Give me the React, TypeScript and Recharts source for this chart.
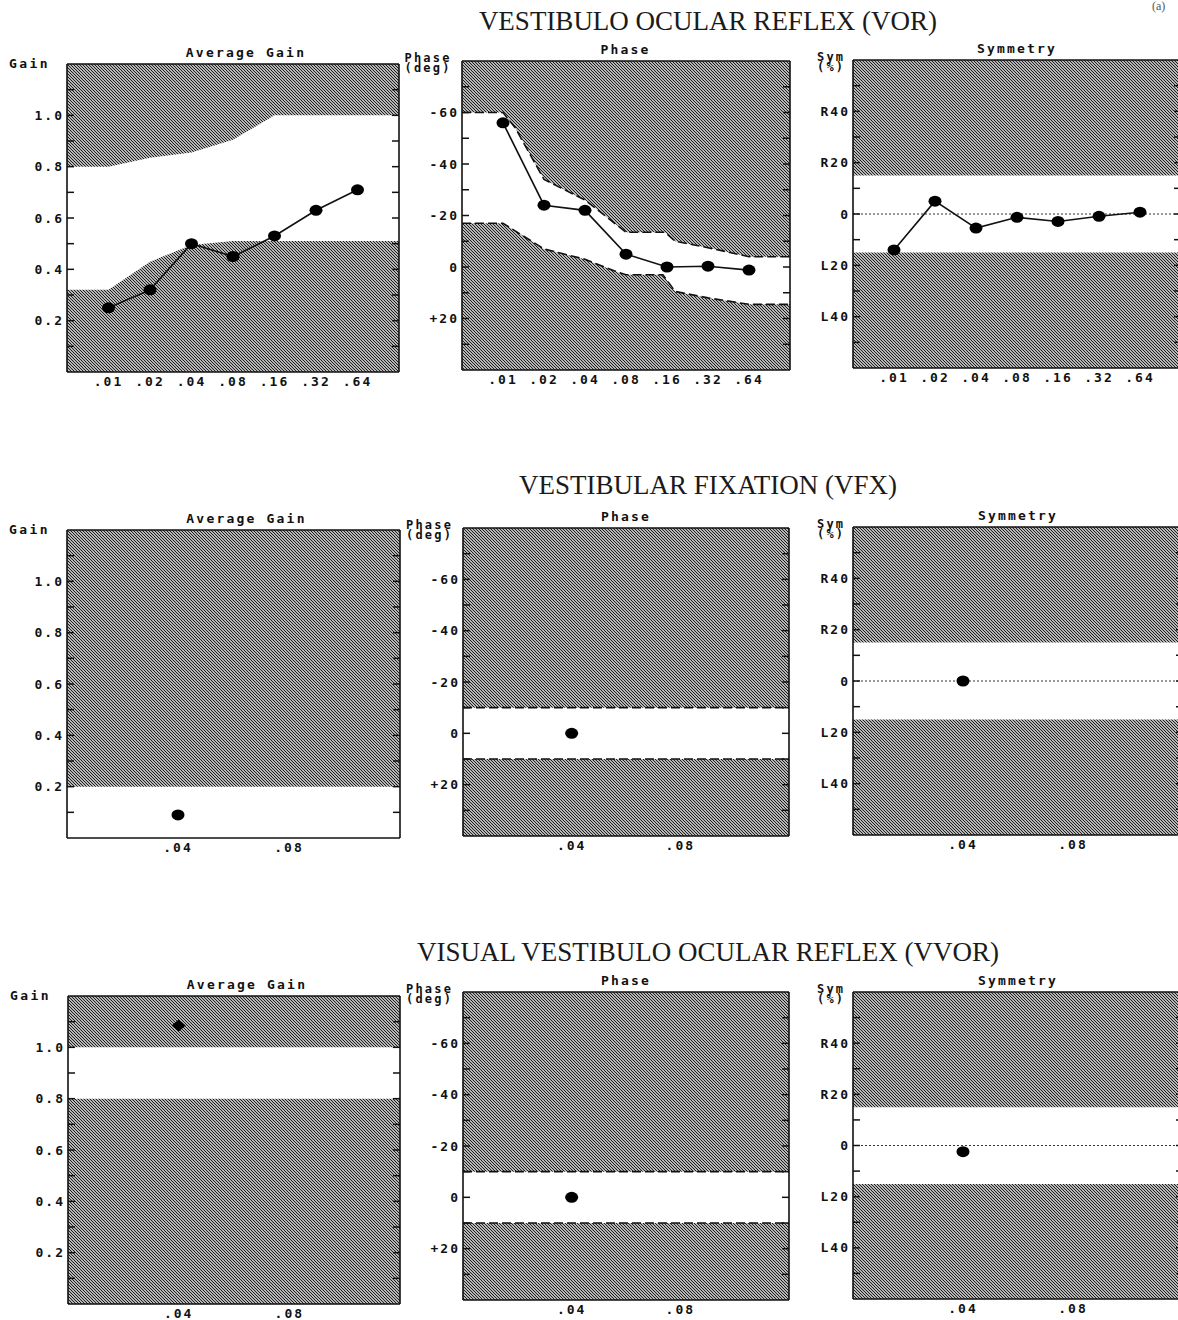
import React from 'react';
import { ComposedChart, Area, Line, XAxis, YAxis, ReferenceLine } from 'recharts';

// ---- data ----
const vorFreqs = ['.01', '.02', '.04', '.08', '.16', '.32', '.64'];
const vorFreqPos = [1, 2, 3, 4, 5, 6, 7];
const vorGain = [0.25, 0.32, 0.5, 0.45, 0.53, 0.63, 0.71];
const vorPhase = [-56, -24, -22, -5, 0, -0.3, 1.2];
const vorSym = [-14, 5, -5.5, -1.3, -2.9, -0.9, 0.7];

const singleFreqs = ['.04', '.08'];
const singleFreqPos = [1, 2];
const vfxGain = [0.09];
const vfxPhase = [0];
const vfxSym = [0];
const vvorGain = [1.085];
const vvorPhase = [0];
const vvorSym = [-2.4];

// normal limits: x = octave position, value at that position
const vorGainLimitX = [0, 1, 2, 3, 4, 5, 6, 7, 8];
const vorGainUpper = [0.8, 0.8, 0.835, 0.855, 0.905, 1.0, 1.0, 1.0, 1.0];
const vorGainLower = [0.32, 0.32, 0.43, 0.495, 0.51, 0.51, 0.51, 0.51, 0.51];
const vorPhaseUpperX = [0, 1, 1.3, 2, 3, 4, 4.95, 5.2, 6, 7, 8];
const vorPhaseUpper = [-60, -60, -54, -34, -26, -13.5, -13.5, -10, -7.5, -4, -4];
const vorPhaseLowerX = [0, 1, 2, 3, 3.8, 4, 4.9, 5.2, 6, 7, 8];
const vorPhaseLower = [-17, -17, -7, -3, 2, 3, 3, 9.5, 12, 14.5, 14.5];
const wideLimitX = [0, 8];
const narrowLimitX = [0, 3];
const symUpper = [15, 15];
const symLower = [-15, -15];
const fixPhaseUpper = [-10, -10];
const fixPhaseLower = [10, 10];
const vfxGainUpper = [0.2, 0.2];
const vvorGainUpper = [1.0, 1.0];
const vvorGainLower = [0.8, 0.8];

// axis ticks
const gainTicks = [0.2, 0.4, 0.6, 0.8, 1.0];
const gainMinorTicks = [0.1, 0.2, 0.3, 0.4, 0.5, 0.6, 0.7, 0.8, 0.9, 1.0, 1.1];
const phaseTicks = [-60, -40, -20, 0, 20];
const phaseMinorTicks = [-70, -60, -50, -40, -30, -20, -10, 0, 10, 20, 30];
const symTicks = [40, 20, 0, -20, -40];
const symMinorTicks = [-50, -40, -30, -20, -10, 0, 10, 20, 30, 40, 50];

const MONO = '"DejaVu Sans Mono", "Liberation Mono", monospace';
const SERIF = '"Liberation Serif", "DejaVu Serif", serif';
const INK = '#111';
const tickStyle = { fontFamily: MONO, fontWeight: 700, fontSize: 13, letterSpacing: 2, fill: INK };

const kinds: Record<string, any> = {
  gain: {
    domain: [0, 1.2], reversed: false, ticks: gainTicks, minor: gainMinorTicks,
    fmt: (v: number) => v.toFixed(1), label: ['Gain'], labelDx: -58,
  },
  phase: {
    domain: [-80, 40], reversed: true, ticks: phaseTicks, minor: phaseMinorTicks,
    fmt: (v: number) => (v > 0 ? `+${v}` : `${v}`), label: ['Phase', '(deg)'], labelDx: -57,
  },
  sym: {
    domain: [-60, 60], reversed: false, ticks: symTicks, minor: symMinorTicks,
    fmt: (v: number) => (v > 0 ? `R${v}` : v < 0 ? `L${-v}` : '0'), label: ['Sym', '(%)'], labelDx: -36,
  },
};

const PAD_L = 70;
const PAD_R = 4;
const PAD_T = 4;
const PAD_B = 28;

const NoTick = () => <g />;

type PanelProps = {
  left: number; top: number; w: number; h: number;
  kind: 'gain' | 'phase' | 'sym';
  title: string; titleShift?: number;
  xMax: number; xTicks: number[]; xLabels: string[];
  values: number[];
  upperX: number[]; upper: number[];
  lowerX?: number[]; lower?: number[];
  diamond?: boolean;
};

function Panel(p: PanelProps) {
  const k = kinds[p.kind];
  const visTop = k.reversed ? k.domain[0] : k.domain[1];
  const visBottom = k.reversed ? k.domain[1] : k.domain[0];
  const topBand = p.upperX.map((x, i) => ({ x, band: [visTop, p.upper[i]], v: p.upper[i] }));
  const bottomBand = p.lower && p.lowerX
    ? p.lowerX.map((x, i) => ({ x, band: [p.lower![i], visBottom], v: p.lower![i] }))
    : null;
  const pts = p.values.map((v, i) => ({ x: p.xTicks[i], v }));
  const dashed = p.kind === 'phase';
  const cw = p.w + PAD_L + PAD_R;
  const ch = p.h + PAD_T + PAD_B;

  const marker = (props: any) => {
    const { cx, cy, index } = props;
    if (cx == null || cy == null) return <g key={index} />;
    if (p.diamond) {
      return <polygon key={index} points={`${cx - 7},${cy} ${cx},${cy - 6} ${cx + 7},${cy} ${cx},${cy + 6}`} fill="#000" />;
    }
    return <ellipse key={index} cx={cx} cy={cy} rx={6.5} ry={5.5} fill="#000" />;
  };

  const tickLine = { stroke: INK, strokeWidth: 1.5 };
  const border = { stroke: INK, strokeWidth: 1.6 };

  return (
    <>
      <div style={{ position: 'absolute', left: p.left - PAD_L, top: p.top - PAD_T, width: cw, height: ch }}>
        <ComposedChart width={cw} height={ch} margin={{ top: PAD_T, right: PAD_R, bottom: 0, left: 0 }}>
          <XAxis xAxisId="x" type="number" dataKey="x" domain={[0, p.xMax]} allowDataOverflow
            ticks={p.xTicks} interval={0} tickFormatter={(v: number) => p.xLabels[p.xTicks.indexOf(v)] ?? ''}
            height={PAD_B} tickLine={false} tickSize={0} tickMargin={5} tick={tickStyle} axisLine={border} />
          <XAxis xAxisId="xb" type="number" domain={[0, p.xMax]} allowDataOverflow orientation="bottom" mirror
            ticks={p.xTicks} interval={0} tick={NoTick} tickSize={7} tickLine={tickLine} axisLine={false} />
          <XAxis xAxisId="xt" type="number" domain={[0, p.xMax]} allowDataOverflow orientation="top" mirror
            ticks={p.xTicks} interval={0} tick={NoTick} tickSize={8} tickLine={tickLine} axisLine={border} />
          <YAxis yAxisId="y" type="number" domain={k.domain} allowDataOverflow reversed={k.reversed}
            ticks={k.ticks} interval={0} tickFormatter={k.fmt} width={PAD_L}
            tickLine={false} tickSize={0} tickMargin={3} tick={tickStyle} axisLine={border} />
          <YAxis yAxisId="yl" type="number" domain={k.domain} allowDataOverflow reversed={k.reversed}
            orientation="left" mirror ticks={k.minor} interval={0} tick={NoTick} tickSize={7}
            tickLine={tickLine} axisLine={false} />
          <YAxis yAxisId="yr" type="number" domain={k.domain} allowDataOverflow reversed={k.reversed}
            orientation="right" mirror ticks={k.minor} interval={0} tick={NoTick} tickSize={7}
            tickLine={tickLine} axisLine={border} />

          <Area xAxisId="x" yAxisId="y" data={topBand} dataKey="band" type="linear"
            fill="url(#hatch)" fillOpacity={1} stroke="none" isAnimationActive={false} />
          {bottomBand && (
            <Area xAxisId="x" yAxisId="y" data={bottomBand} dataKey="band" type="linear"
              fill="url(#hatch)" fillOpacity={1} stroke="none" isAnimationActive={false} />
          )}
          {dashed && (
            <Line xAxisId="x" yAxisId="y" data={topBand} dataKey="v" type="linear" dot={false}
              stroke={INK} strokeWidth={1.6} strokeDasharray="9 4" isAnimationActive={false} />
          )}
          {dashed && bottomBand && (
            <Line xAxisId="x" yAxisId="y" data={bottomBand} dataKey="v" type="linear" dot={false}
              stroke={INK} strokeWidth={1.6} strokeDasharray="9 4" isAnimationActive={false} />
          )}
          {p.kind === 'sym' && (
            <ReferenceLine xAxisId="x" yAxisId="y" y={0} stroke="#333" strokeWidth={1} strokeDasharray="2 2" />
          )}
          <Line xAxisId="x" yAxisId="y" data={pts} dataKey="v" type="linear"
            stroke={INK} strokeWidth={1.6} dot={marker} activeDot={false} isAnimationActive={false} />
        </ComposedChart>
      </div>
      <div style={{
        position: 'absolute', left: p.left + p.w / 2 + (p.titleShift ?? 0), top: p.top - 18,
        transform: 'translateX(-50%)', fontFamily: MONO, fontWeight: 700, fontSize: 13,
        letterSpacing: 2.2, lineHeight: '13px', color: INK, whiteSpace: 'nowrap',
      }}>{p.title}</div>
      <div style={{
        position: 'absolute', left: p.left + k.labelDx, top: p.top - (k.label.length > 1 ? 7 : 7.5),
        fontFamily: MONO, fontWeight: 700, fontSize: k.label.length > 1 ? 12 : 13,
        letterSpacing: k.label.length > 1 ? 2.2 : 2.4, lineHeight: k.label.length > 1 ? '9.5px' : '13px',
        color: INK, whiteSpace: 'pre',
      }}>{k.label.join('\n')}</div>
    </>
  );
}

const rowTitle = (text: string, baseline: number) => (
  <div style={{
    position: 'absolute', left: 708, top: baseline - 22.6, transform: 'translateX(-50%)',
    fontFamily: SERIF, fontSize: 27, lineHeight: '27px', color: '#1a1a1a', whiteSpace: 'nowrap',
  }}>{text}</div>
);

export default function App() {
  return (
    <div style={{ position: 'fixed', left: 0, top: 0, width: 1178, height: 1320, overflow: 'hidden', background: '#fff' }}>
      <svg width={0} height={0} style={{ position: 'absolute' }}>
        <defs>
          <pattern id="hatch" patternUnits="userSpaceOnUse" width={3} height={3}>
            <path d="M0,0 L3,3 M2,-1 L4,1 M-1,2 L1,4" stroke="#151515" strokeWidth={1.2} />
          </pattern>
        </defs>
      </svg>

      {rowTitle('VESTIBULO OCULAR REFLEX (VOR)', 31)}
      <div style={{ position: 'absolute', left: 1152, top: 0, fontFamily: SERIF, fontSize: 12, lineHeight: '12px', color: '#555' }}>(a)</div>
      {rowTitle('VESTIBULAR FIXATION (VFX)', 495)}
      {rowTitle('VISUAL VESTIBULO OCULAR REFLEX (VVOR)', 962)}

      {/* VOR */}
      <Panel left={67} top={64} w={332} h={308} kind="gain" title="Average Gain" titleShift={13}
        xMax={8} xTicks={vorFreqPos} xLabels={vorFreqs} values={vorGain}
        upperX={vorGainLimitX} upper={vorGainUpper} lowerX={vorGainLimitX} lower={vorGainLower} />
      <Panel left={461.5} top={61} w={328} h={309} kind="phase" title="Phase"
        xMax={8} xTicks={vorFreqPos} xLabels={vorFreqs} values={vorPhase}
        upperX={vorPhaseUpperX} upper={vorPhaseUpper} lowerX={vorPhaseLowerX} lower={vorPhaseLower} />
      <Panel left={853} top={60} w={328} h={308} kind="sym" title="Symmetry"
        xMax={8} xTicks={vorFreqPos} xLabels={vorFreqs} values={vorSym}
        upperX={wideLimitX} upper={symUpper} lowerX={wideLimitX} lower={symLower} />

      {/* VFX */}
      <Panel left={67} top={530} w={333} h={308} kind="gain" title="Average Gain" titleShift={13}
        xMax={3} xTicks={singleFreqPos} xLabels={singleFreqs} values={vfxGain}
        upperX={narrowLimitX} upper={vfxGainUpper} />
      <Panel left={463} top={528} w={326} h={308} kind="phase" title="Phase"
        xMax={3} xTicks={singleFreqPos} xLabels={singleFreqs} values={vfxPhase}
        upperX={narrowLimitX} upper={fixPhaseUpper} lowerX={narrowLimitX} lower={fixPhaseLower} />
      <Panel left={853} top={527} w={330} h={308} kind="sym" title="Symmetry"
        xMax={3} xTicks={singleFreqPos} xLabels={singleFreqs} values={vfxSym}
        upperX={narrowLimitX} upper={symUpper} lowerX={narrowLimitX} lower={symLower} />

      {/* VVOR */}
      <Panel left={68} top={996} w={332} h={308} kind="gain" title="Average Gain" titleShift={13}
        xMax={3} xTicks={singleFreqPos} xLabels={singleFreqs} values={vvorGain} diamond
        upperX={narrowLimitX} upper={vvorGainUpper} lowerX={narrowLimitX} lower={vvorGainLower} />
      <Panel left={463} top={992} w={326} h={308} kind="phase" title="Phase"
        xMax={3} xTicks={singleFreqPos} xLabels={singleFreqs} values={vvorPhase}
        upperX={narrowLimitX} upper={fixPhaseUpper} lowerX={narrowLimitX} lower={fixPhaseLower} />
      <Panel left={853} top={992} w={330} h={307} kind="sym" title="Symmetry"
        xMax={3} xTicks={singleFreqPos} xLabels={singleFreqs} values={vvorSym}
        upperX={narrowLimitX} upper={symUpper} lowerX={narrowLimitX} lower={symLower} />
    </div>
  );
}
